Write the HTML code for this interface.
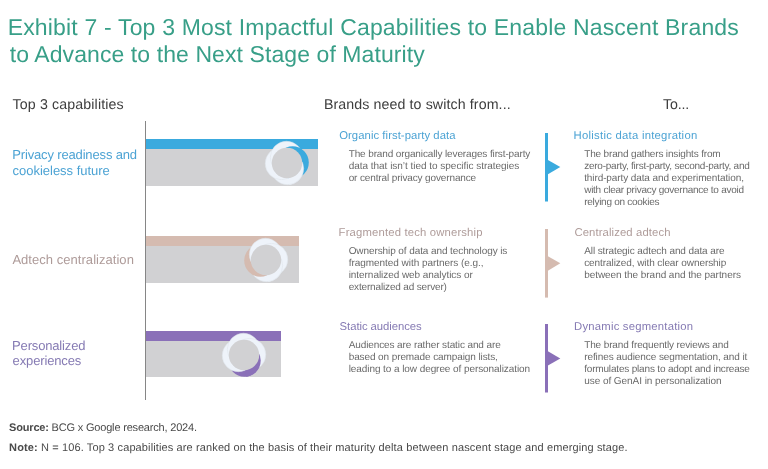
<!DOCTYPE html>
<html><head><meta charset="utf-8">
<style>
*{margin:0;padding:0;box-sizing:border-box}
html,body{width:768px;height:469px;background:#fff;overflow:hidden}
body{position:relative;font-family:"Liberation Sans",sans-serif;text-rendering:geometricPrecision}
.a{position:absolute}
.t{position:absolute;white-space:nowrap}
.vl{position:absolute;left:145px;top:121px;width:1px;height:279px;background:#868686}
</style></head><body>
<div class="vl"></div>
<div class="a" style="left:146px;top:139px;width:172px;height:10px;background:#3aaade"></div><div class="a" style="left:146px;top:149px;width:172px;height:37px;background:#d1d1d3"></div>
<div class="a" style="left:146px;top:236px;width:153px;height:10px;background:#d5bbb0"></div><div class="a" style="left:146px;top:246px;width:153px;height:36.5px;background:#d1d1d3"></div>
<div class="a" style="left:146px;top:331px;width:135px;height:10px;background:#8a70b8"></div><div class="a" style="left:146px;top:341px;width:135px;height:36px;background:#d1d1d3"></div>
<svg class="a" style="left:261.3px;top:137.3px" width="52" height="52" viewBox="-26 -26 52 52"><defs><clipPath id="c287163"><polygon points="0.00,0.00 3.49,39.85 13.68,37.59 22.94,32.77 30.64,25.71 36.25,16.90 39.39,6.95 39.85,-3.49"/></clipPath></defs><circle cx="0.49" cy="5.58" r="16.2" fill="#eef3fa" stroke="#dde2e8" stroke-width="0.5"/><circle cx="-5.58" cy="0.49" r="16.2" fill="#eef3fa" stroke="#dde2e8" stroke-width="0.5"/><circle cx="-0.49" cy="-5.58" r="16.2" fill="#eef3fa" stroke="#dde2e8" stroke-width="0.5"/><circle cx="5.58" cy="-0.49" r="16.2" fill="#3aaade" stroke="none" stroke-width="0.5"/><circle cx="0.49" cy="5.58" r="16.2" fill="#eef3fa" stroke="#dde2e8" stroke-width="0.5" clip-path="url(#c287163)"/><circle cx="0" cy="0" r="15.2" fill="#d1d1d3"/></svg>
<svg class="a" style="left:240.3px;top:234px" width="52" height="52" viewBox="-26 -26 52 52"><defs><clipPath id="c266260"><polygon points="0.00,0.00 3.49,39.85 13.68,37.59 22.94,32.77 30.64,25.71 36.25,16.90 39.39,6.95 39.85,-3.49"/></clipPath></defs><circle cx="0.49" cy="5.58" r="16.2" fill="#eef3fa" stroke="#dde2e8" stroke-width="0.5"/><circle cx="-5.58" cy="0.49" r="16.2" fill="#d5bbb0" stroke="none" stroke-width="0.5"/><circle cx="-0.49" cy="-5.58" r="16.2" fill="#eef3fa" stroke="#dde2e8" stroke-width="0.5"/><circle cx="5.58" cy="-0.49" r="16.2" fill="#eef3fa" stroke="#dde2e8" stroke-width="0.5"/><circle cx="0.49" cy="5.58" r="16.2" fill="#eef3fa" stroke="#dde2e8" stroke-width="0.5" clip-path="url(#c266260)"/><circle cx="0" cy="0" r="15.2" fill="#d1d1d3"/></svg>
<svg class="a" style="left:218.1px;top:329px" width="52" height="52" viewBox="-26 -26 52 52"><defs><clipPath id="c244355"><polygon points="0.00,0.00 3.49,39.85 13.68,37.59 22.94,32.77 30.64,25.71 36.25,16.90 39.39,6.95 39.85,-3.49"/></clipPath></defs><circle cx="0.49" cy="5.58" r="16.2" fill="#8a70b8" stroke="none" stroke-width="0.5"/><circle cx="-5.58" cy="0.49" r="16.2" fill="#eef3fa" stroke="#dde2e8" stroke-width="0.5"/><circle cx="-0.49" cy="-5.58" r="16.2" fill="#eef3fa" stroke="#dde2e8" stroke-width="0.5"/><circle cx="5.58" cy="-0.49" r="16.2" fill="#eef3fa" stroke="#dde2e8" stroke-width="0.5"/><circle cx="0.49" cy="5.58" r="16.2" fill="#8a70b8" stroke="none" stroke-width="0.5" clip-path="url(#c244355)"/><circle cx="0" cy="0" r="15.2" fill="#d1d1d3"/></svg>
<svg class="a" style="left:540px;top:130.5px" width="26" height="72.5" viewBox="540 130.5 26 72.5"><rect x="545" y="132.5" width="3" height="68.5" fill="#3aaade"/><path d="M547.5 159.2 L560.3 166.6 L547.5 174.1Z" fill="#3aaade"/></svg>
<svg class="a" style="left:540px;top:227.2px" width="26" height="72.60000000000002" viewBox="540 227.2 26 72.60000000000002"><rect x="545" y="229.2" width="3" height="68.60000000000002" fill="#d5bbb0"/><path d="M547.5 256.1 L560.3 263.4 L547.5 271.1Z" fill="#d5bbb0"/></svg>
<svg class="a" style="left:540px;top:321.8px" width="26" height="72.5" viewBox="540 321.8 26 72.5"><rect x="545" y="323.8" width="3" height="68.5" fill="#8a70b8"/><path d="M547.5 350.7 L560.3 358.2 L547.5 365.6Z" fill="#8a70b8"/></svg>
<div class="a" style="left:0;top:0;width:768px;height:469px;will-change:transform">
<div class="t" style="left:7.7px;top:16px;font-size:23px;line-height:23px;letter-spacing:0.171px;color:#389f88">Exhibit 7 - Top 3 Most Impactful Capabilities to Enable Nascent Brands</div>
<div class="t" style="left:9.7px;top:43px;font-size:23px;line-height:23px;letter-spacing:0.087px;color:#389f88">to Advance to the Next Stage of Maturity</div>
<div class="t" style="left:12.6px;top:98px;font-size:14.2px;line-height:14.2px;letter-spacing:0.129px;color:#3d3d3d">Top 3 capabilities</div>
<div class="t" style="left:323.9px;top:98px;font-size:14.2px;line-height:14.2px;letter-spacing:0.107px;color:#3d3d3d">Brands need to switch from...</div>
<div class="t" style="left:663.0px;top:98px;font-size:14.2px;line-height:14.2px;letter-spacing:-0.175px;color:#3d3d3d">To...</div>
<div class="t" style="left:12.2px;top:148px;font-size:13px;line-height:13px;letter-spacing:-0.15px;color:#4ca3d4">Privacy readiness and</div>
<div class="t" style="left:12.6px;top:164px;font-size:13px;line-height:13px;letter-spacing:-0.025px;color:#4ca3d4">cookieless future</div>
<div class="t" style="left:12.4px;top:253px;font-size:13px;line-height:13px;letter-spacing:0.04px;color:#ae9b99">Adtech centralization</div>
<div class="t" style="left:12.1px;top:339px;font-size:13px;line-height:13px;letter-spacing:-0.164px;color:#857ab3">Personalized</div>
<div class="t" style="left:12.6px;top:354px;font-size:13px;line-height:13px;letter-spacing:-0.14px;color:#857ab3">experiences</div>
<div class="t" style="left:339.2px;top:131px;font-size:11.3px;line-height:11.3px;letter-spacing:0.061px;color:#4ca3d4">Organic first-party data</div>
<div class="t" style="left:338.6px;top:228px;font-size:11.3px;line-height:11.3px;letter-spacing:0.162px;color:#ae9b99">Fragmented tech ownership</div>
<div class="t" style="left:339.6px;top:322px;font-size:11.3px;line-height:11.3px;letter-spacing:-0.053px;color:#857ab3">Static audiences</div>
<div class="t" style="left:573.6px;top:131px;font-size:11.3px;line-height:11.3px;letter-spacing:0.258px;color:#4ca3d4">Holistic data integration</div>
<div class="t" style="left:574.4px;top:228px;font-size:11.3px;line-height:11.3px;letter-spacing:0.112px;color:#ae9b99">Centralized adtech</div>
<div class="t" style="left:574.1px;top:322px;font-size:11.3px;line-height:11.3px;letter-spacing:0.211px;color:#857ab3">Dynamic segmentation</div>
<div class="t" style="left:348.7px;top:150px;font-size:10px;line-height:10px;letter-spacing:-0.121px;color:#6a6a6a">The brand organically leverages first-party</div>
<div class="t" style="left:348.7px;top:162px;font-size:10px;line-height:10px;letter-spacing:-0.026px;color:#6a6a6a">data that isn’t tied to specific strategies</div>
<div class="t" style="left:348.7px;top:174px;font-size:10px;line-height:10px;letter-spacing:-0.132px;color:#6a6a6a">or central privacy governance</div>
<div class="t" style="left:348.7px;top:247px;font-size:10px;line-height:10px;letter-spacing:-0.091px;color:#6a6a6a">Ownership of data and technology is</div>
<div class="t" style="left:348.7px;top:259px;font-size:10px;line-height:10px;letter-spacing:-0.043px;color:#6a6a6a">fragmented with partners (e.g.,</div>
<div class="t" style="left:348.7px;top:271px;font-size:10px;line-height:10px;letter-spacing:-0.054px;color:#6a6a6a">internalized web analytics or</div>
<div class="t" style="left:348.7px;top:283px;font-size:10px;line-height:10px;letter-spacing:-0.159px;color:#6a6a6a">externalized ad server)</div>
<div class="t" style="left:348.7px;top:341px;font-size:10px;line-height:10px;letter-spacing:-0.106px;color:#6a6a6a">Audiences are rather static and are</div>
<div class="t" style="left:348.7px;top:353px;font-size:10px;line-height:10px;letter-spacing:-0.1px;color:#6a6a6a">based on premade campaign lists,</div>
<div class="t" style="left:348.7px;top:365px;font-size:10px;line-height:10px;letter-spacing:-0.076px;color:#6a6a6a">leading to a low degree of personalization</div>
<div class="t" style="left:584.2px;top:150px;font-size:10px;line-height:10px;letter-spacing:-0.157px;color:#6a6a6a">The brand gathers insights from</div>
<div class="t" style="left:584.2px;top:162px;font-size:10px;line-height:10px;letter-spacing:-0.244px;color:#6a6a6a">zero-party, first-party, second-party, and</div>
<div class="t" style="left:584.2px;top:174px;font-size:10px;line-height:10px;letter-spacing:-0.103px;color:#6a6a6a">third-party data and experimentation,</div>
<div class="t" style="left:584.2px;top:186px;font-size:10px;line-height:10px;letter-spacing:-0.262px;color:#6a6a6a">with clear privacy governance to avoid</div>
<div class="t" style="left:584.2px;top:198px;font-size:10px;line-height:10px;letter-spacing:-0.282px;color:#6a6a6a">relying on cookies</div>
<div class="t" style="left:584.2px;top:247px;font-size:10px;line-height:10px;letter-spacing:-0.097px;color:#6a6a6a">All strategic adtech and data are</div>
<div class="t" style="left:584.2px;top:259px;font-size:10px;line-height:10px;letter-spacing:-0.075px;color:#6a6a6a">centralized, with clear ownership</div>
<div class="t" style="left:584.2px;top:271px;font-size:10px;line-height:10px;letter-spacing:-0.052px;color:#6a6a6a">between the brand and the partners</div>
<div class="t" style="left:584.2px;top:341px;font-size:10px;line-height:10px;letter-spacing:-0.126px;color:#6a6a6a">The brand frequently reviews and</div>
<div class="t" style="left:584.2px;top:353px;font-size:10px;line-height:10px;letter-spacing:-0.086px;color:#6a6a6a">refines audience segmentation, and it</div>
<div class="t" style="left:584.2px;top:365px;font-size:10px;line-height:10px;letter-spacing:-0.178px;color:#6a6a6a">formulates plans to adopt and increase</div>
<div class="t" style="left:584.2px;top:377px;font-size:10px;line-height:10px;letter-spacing:-0.053px;color:#6a6a6a">use of GenAI in personalization</div>
<div class="t" style="left:9.1px;top:423px;font-size:11px;line-height:11px;letter-spacing:-0.186px;color:#4a4a4a"><b>Source:</b> BCG x Google research, 2024.</div>
<div class="t" style="left:9.1px;top:443px;font-size:11px;line-height:11px;letter-spacing:0.121px;color:#4a4a4a"><b>Note:</b> N = 106. Top 3 capabilities are ranked on the basis of their maturity delta between nascent stage and emerging stage.</div>
</div>
</body></html>
